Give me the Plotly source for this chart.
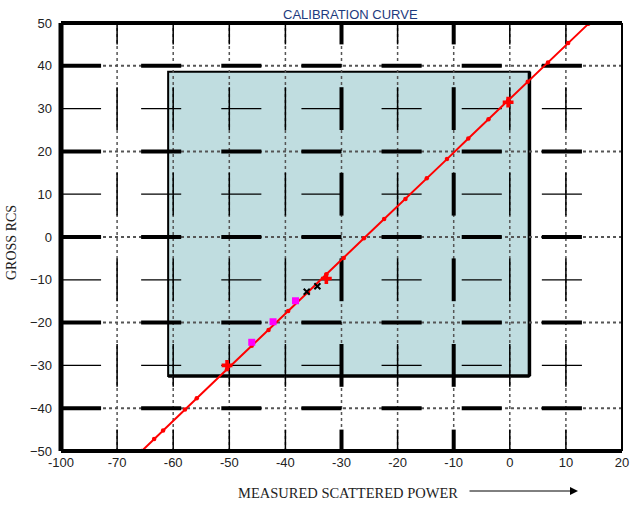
import plotly.graph_objects as go

# ---- data ----
x_tick_vals = [-80, -70, -60, -50, -40, -30, -20, -10, 0, 10, 20]
x_tick_text = ["-100", "-70", "-60", "-50", "-40", "-30", "-20", "-10", "0", "10", "20"]
y_tick_vals = [-50, -40, -30, -20, -10, 0, 10, 20, 30, 40, 50]

curve_x = [-65.6, -63.4, -61.8, -57.9, -55.8, -50.4, -46.0, -43.0, -39.5, -36.0, -32.7, -29.6,
           -26.0, -22.4, -18.6, -14.8, -11.2, -7.4, -3.8, -0.3, 3.2, 6.8, 10.4, 14.0]
curve_y = [-50.0, -47.2, -45.2, -40.3, -37.7, -30.9, -25.4, -21.7, -17.3, -12.9, -8.7, -4.9,
           -0.3, 4.2, 8.9, 13.7, 18.2, 23.0, 27.5, 31.9, 36.3, 40.8, 45.3, 49.8]

red_cross_x = [-50.4, -32.7, -0.3]
red_cross_y = [-30.0, -9.7, 31.5]

magenta_x = [-46.0, -42.2, -38.2]
magenta_y = [-24.6, -19.8, -14.9]

black_x = [-36.2, -34.3]
black_y = [-12.8, -11.5]

region_x = [-60.9, 3.5]
region_y = [-32.5, 38.6]

X_MIN, X_MAX = -80, 20
Y_MIN, Y_MAX = -50, 50
major_y = [40, 20, 0, -20, -40]
minor_y = [30, 10, -10, -30]
dash_centers_y = [50, 30, 10, -10, -30, -50]
vert_x = [-70, -60, -50, -40, -30, -20, -10, 0, 10]
thick_vert_x = [-30, -10]

fig = go.Figure()

# ---- shaded region (drawn first, below everything) ----
fig.add_shape(type="rect", xref="x", yref="y", x0=region_x[0], x1=region_x[1],
              y0=region_y[0], y1=region_y[1], fillcolor="#c0dde0",
              line=dict(color="black", width=2), layer="below")
fig.add_shape(type="line", xref="x", yref="y", x0=region_x[1], x1=region_x[1],
              y0=region_y[0], y1=region_y[1], line=dict(color="black", width=3.5), layer="below")
fig.add_shape(type="line", xref="x", yref="y", x0=region_x[0], x1=region_x[1],
              y0=region_y[0], y1=region_y[0], line=dict(color="black", width=3.5), layer="below")

# ---- dotted grid lines as shapes (above the region fill, below traces) ----
for yv in major_y:
    fig.add_shape(type="line", xref="x", yref="y", x0=X_MIN, x1=X_MAX, y0=yv, y1=yv,
                  line=dict(color="#555", width=2, dash="dot"), layer="below")
for xv in vert_x:
    fig.add_shape(type="line", xref="x", yref="y", x0=xv, x1=xv, y0=Y_MIN, y1=Y_MAX,
                  line=dict(color="#555", width=1.5, dash="dot"), layer="below")

# ---- solid grid dashes ----
n_dash = 7
period = (X_MAX - X_MIN) / n_dash


def hseg(yv):
    xs, ys = [], []
    for k in range(n_dash):
        x0 = X_MIN + k * period
        xs += [x0, x0 + period / 2, None]
        ys += [yv, yv, None]
    return xs, ys


tx, ty = [], []
for yv in major_y:
    a, b = hseg(yv)
    tx += a
    ty += b
fig.add_trace(go.Scatter(x=tx, y=ty, mode="lines", line=dict(color="black", width=4),
                         hoverinfo="skip", showlegend=False))

mx, my = [], []
for yv in minor_y:
    a, b = hseg(yv)
    mx += a
    my += b
fig.add_trace(go.Scatter(x=mx, y=my, mode="lines", line=dict(color="black", width=1.2),
                         hoverinfo="skip", showlegend=False))

for thick in (False, True):
    vx, vy = [], []
    for xv in vert_x:
        if (xv in thick_vert_x) != thick:
            continue
        for yc in dash_centers_y:
            vx += [xv, xv, None]
            vy += [max(yc - 5, Y_MIN), min(yc + 5, Y_MAX), None]
    fig.add_trace(go.Scatter(x=vx, y=vy, mode="lines",
                             line=dict(color="black", width=4 if thick else 1.5),
                             hoverinfo="skip", showlegend=False))

# ---- calibration curve ----
fig.add_trace(go.Scatter(x=curve_x, y=curve_y, mode="lines+markers",
                         line=dict(color="#ff0000", width=2),
                         marker=dict(color="#ff0000", size=4.5),
                         showlegend=False))
fig.add_trace(go.Scatter(x=magenta_x, y=magenta_y, mode="markers",
                         marker=dict(color="#ff00ff", size=7, symbol="square"),
                         showlegend=False))
fig.add_trace(go.Scatter(x=black_x, y=black_y, mode="markers",
                         marker=dict(color="black", size=6, symbol="x-thin",
                                     line=dict(color="black", width=2)),
                         showlegend=False))
fig.add_trace(go.Scatter(x=red_cross_x, y=red_cross_y, mode="markers",
                         marker=dict(color="#ff0000", size=9, symbol="cross"),
                         showlegend=False))

# ---- frame ----
fig.add_shape(type="line", xref="paper", yref="paper", x0=0, x1=0, y0=0, y1=1,
              line=dict(color="black", width=5))
fig.add_shape(type="line", xref="paper", yref="paper", x0=0, x1=1, y0=1, y1=1,
              line=dict(color="black", width=4))
fig.add_shape(type="line", xref="paper", yref="paper", x0=0, x1=1, y0=0, y1=0,
              line=dict(color="black", width=4))
fig.add_shape(type="line", xref="paper", yref="paper", x0=1, x1=1, y0=0, y1=1,
              line=dict(color="black", width=2))

W, H = 635, 505
L, R, T, B = 61, 13, 23, 54
pw, ph = W - L - R, H - T - B


def px(xp):
    return (xp - L) / pw


def py(yp):
    return (H - B - yp) / ph


fig.update_layout(
    width=W, height=H,
    margin=dict(l=L, r=R, t=T, b=B),
    paper_bgcolor="white", plot_bgcolor="white",
    font=dict(family="Arial, Liberation Sans, sans-serif", size=13, color="#222"),
    xaxis=dict(range=[X_MIN, X_MAX], tickvals=x_tick_vals, ticktext=x_tick_text,
               showgrid=False, zeroline=False, showline=False, ticks="",
               ticklabelstandoff=2, automargin=False),
    yaxis=dict(range=[Y_MIN, Y_MAX], tickvals=y_tick_vals,
               showgrid=False, zeroline=False, showline=False, ticks="",
               ticklabelstandoff=8, automargin=False),
    annotations=[
        dict(text="CALIBRATION CURVE", xref="paper", yref="paper", x=px(350), y=py(14),
             xanchor="center", yanchor="middle",
             showarrow=False, font=dict(size=13, color="#1d3a7e",
                                        family="Arial, Liberation Sans, sans-serif")),
        dict(text="GROSS RCS", xref="paper", yref="paper", x=px(12), y=py(243),
             xanchor="center", yanchor="middle",
             textangle=-90, showarrow=False,
             font=dict(size=14, color="#222", family="Liberation Serif, Times New Roman, serif")),
        dict(text="MEASURED SCATTERED POWER", xref="paper", yref="paper", x=px(348), y=py(493),
             xanchor="center", yanchor="middle",
             showarrow=False,
             font=dict(size=14.5, color="#222", family="Liberation Serif, Times New Roman, serif")),
        dict(text="", xref="paper", yref="paper", x=px(578), y=py(491),
             showarrow=True, ax=-110, ay=0, arrowhead=2, arrowsize=1.6, arrowwidth=1,
             arrowcolor="black"),
    ],
)

fig.write_html("out.html")
